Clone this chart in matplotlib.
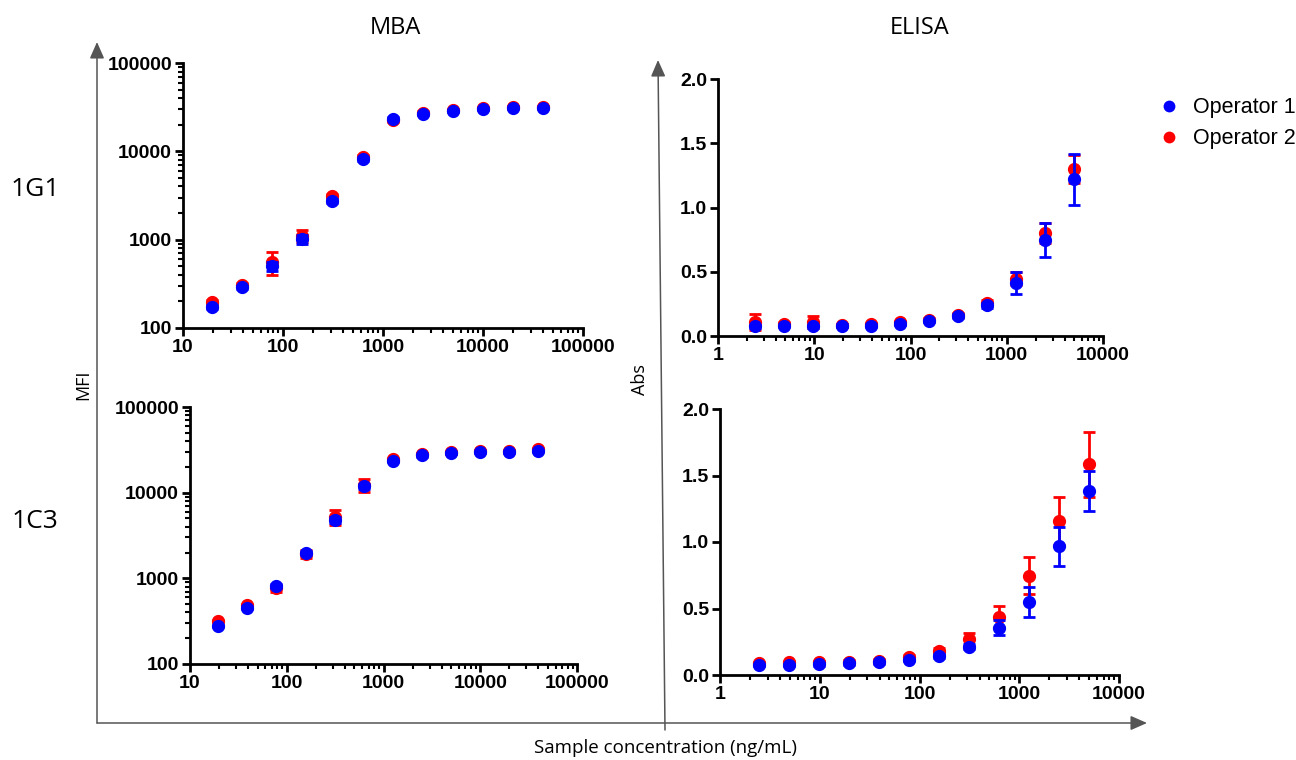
import numpy as np
import matplotlib
matplotlib.use("Agg")
import matplotlib.pyplot as plt
from matplotlib.lines import Line2D
from matplotlib.ticker import LogLocator, NullFormatter, FixedLocator

# MBA concentrations (2-fold dilution series, ng/mL)
mba_conc = [19.53, 39.06, 78.13, 156.25, 312.5, 625, 1250, 2500, 5000, 10000, 20000, 40000]
# ELISA concentrations
elisa_conc = [2.44, 4.88, 9.77, 19.53, 39.06, 78.13, 156.25, 312.5, 625, 1250, 2500, 5000]

# MBA 1G1 (MFI)
mba_1g1_op1 = [174, 289, 503, 1010, 2770, 8200, 23300, 26700, 28900, 30200, 30700, 31300]
mba_1g1_op1_sd = [8, 12, 60, 110, 150, 400, 900, 800, 700, 700, 800, 800]
mba_1g1_op2 = [195, 307, 563, 1110, 3120, 8700, 22600, 27500, 29500, 31000, 31600, 31600]
mba_1g1_op2_sd = [10, 15, 170, 170, 200, 500, 900, 900, 900, 900, 900, 900]

# MBA 1C3 (MFI)
mba_1c3_op1 = [277, 454, 813, 1990, 4790, 11900, 23400, 27200, 29000, 30000, 30000, 30800]
mba_1c3_op1_sd = [10, 20, 40, 100, 400, 800, 900, 800, 800, 800, 800, 800]
mba_1c3_op2 = [318, 488, 764, 1920, 5240, 12300, 24400, 28200, 29500, 30400, 30600, 32000]
mba_1c3_op2_sd = [12, 20, 66, 210, 1100, 2000, 900, 900, 900, 900, 900, 900]

# ELISA 1G1 (Abs)
elisa_1g1_op1 = [0.075, 0.081, 0.075, 0.081, 0.081, 0.096, 0.117, 0.156, 0.239, 0.414, 0.746, 1.22]
elisa_1g1_op1_sd = [0.01, 0.01, 0.01, 0.01, 0.01, 0.01, 0.01, 0.015, 0.02, 0.085, 0.13, 0.20]
elisa_1g1_op2 = [0.109, 0.096, 0.109, 0.083, 0.091, 0.109, 0.127, 0.166, 0.257, 0.447, 0.80, 1.30]
elisa_1g1_op2_sd = [0.06, 0.01, 0.05, 0.01, 0.01, 0.01, 0.01, 0.015, 0.02, 0.05, 0.08, 0.11]

# ELISA 1C3 (Abs)
elisa_1c3_op1 = [0.075, 0.075, 0.080, 0.088, 0.095, 0.113, 0.145, 0.213, 0.356, 0.549, 0.967, 1.383]
elisa_1c3_op1_sd = [0.01, 0.01, 0.01, 0.01, 0.01, 0.01, 0.015, 0.02, 0.055, 0.11, 0.147, 0.15]
elisa_1c3_op2 = [0.088, 0.095, 0.095, 0.10, 0.108, 0.138, 0.18, 0.268, 0.439, 0.747, 1.158, 1.584]
elisa_1c3_op2_sd = [0.01, 0.01, 0.01, 0.01, 0.01, 0.015, 0.02, 0.05, 0.08, 0.137, 0.183, 0.243]

operators = ["Operator 1", "Operator 2"]
colors = ["#0000FF", "#FF0000"]

W, H = 1296, 760
fig = plt.figure(figsize=(W / 100, H / 100), dpi=100)


def px_axes(x0, y0, x1, y1):
    # Axes from pixel box (top-left origin)
    return fig.add_axes([x0 / W, 1 - y1 / H, (x1 - x0) / W, (y1 - y0) / H])


def style_axes(ax):
    ax.spines[["right", "top"]].set_visible(False)
    for s in ["left", "bottom"]:
        ax.spines[s].set_linewidth(2)
    ax.tick_params(which="major", direction="out", length=6, width=2, labelsize=14, pad=2)
    ax.tick_params(which="minor", direction="out", length=3.5, width=1.5)
    for lab in ax.get_xticklabels() + ax.get_yticklabels():
        lab.set_fontweight("bold")
        lab.set_fontfamily("Liberation Sans")


def draw_series(ax, x, y1, e1, y2, e2):
    # Operator 2 below, operator 1 on top
    for y, e, c, z in [(y2, e2, colors[1], 3), (y1, e1, colors[0], 4)]:
        ax.errorbar(x, y, yerr=e, fmt="o", color=c, ecolor=c, ms=8.5, mec=c,
                    elinewidth=2, capsize=4, capthick=2, clip_on=False, zorder=z)


def mba_axes(ax):
    ax.set_xscale("log")
    ax.set_yscale("log")
    ax.set_xlim(10, 100000)
    ax.set_ylim(100, 100000)
    ax.xaxis.set_major_locator(FixedLocator([10, 100, 1000, 10000, 100000]))
    ax.yaxis.set_major_locator(FixedLocator([100, 1000, 10000, 100000]))
    ax.xaxis.set_minor_locator(LogLocator(base=10, subs=np.arange(2, 10)))
    ax.yaxis.set_minor_locator(LogLocator(base=10, subs=np.arange(2, 10)))
    ax.xaxis.set_minor_formatter(NullFormatter())
    ax.yaxis.set_minor_formatter(NullFormatter())
    ax.set_xticklabels(["10", "100", "1000", "10000", "100000"])
    ax.set_yticklabels(["100", "1000", "10000", "100000"])
    style_axes(ax)


def elisa_axes(ax):
    ax.set_xscale("log")
    ax.set_xlim(1, 10000)
    ax.set_ylim(0, 2.0)
    ax.xaxis.set_major_locator(FixedLocator([1, 10, 100, 1000, 10000]))
    ax.xaxis.set_minor_locator(LogLocator(base=10, subs=np.arange(2, 10)))
    ax.xaxis.set_minor_formatter(NullFormatter())
    ax.set_xticklabels(["1", "10", "100", "1000", "10000"])
    ax.set_yticks([0, 0.5, 1.0, 1.5, 2.0])
    ax.set_yticklabels(["0.0", "0.5", "1.0", "1.5", "2.0"])
    style_axes(ax)


# MBA 1G1
ax = px_axes(183, 63, 583, 328)
draw_series(ax, mba_conc, mba_1g1_op1, mba_1g1_op1_sd, mba_1g1_op2, mba_1g1_op2_sd)
mba_axes(ax)

# MBA 1C3
ax = px_axes(190, 407, 577, 664)
draw_series(ax, mba_conc, mba_1c3_op1, mba_1c3_op1_sd, mba_1c3_op2, mba_1c3_op2_sd)
mba_axes(ax)

# ELISA 1G1
ax = px_axes(718, 79, 1103, 336)
draw_series(ax, elisa_conc, elisa_1g1_op1, elisa_1g1_op1_sd, elisa_1g1_op2, elisa_1g1_op2_sd)
elisa_axes(ax)

# ELISA 1C3
ax = px_axes(720, 409, 1119, 675)
draw_series(ax, elisa_conc, elisa_1c3_op1, elisa_1c3_op1_sd, elisa_1c3_op2, elisa_1c3_op2_sd)
elisa_axes(ax)


# Frame arrows around the panels
def fig_arrow(p0, p1):
    xy0 = (p0[0] / W, 1 - p0[1] / H)
    xy1 = (p1[0] / W, 1 - p1[1] / H)
    fig.add_artist(matplotlib.patches.FancyArrowPatch(
        xy0, xy1, transform=fig.transFigure,
        arrowstyle="-|>,head_length=0.5,head_width=0.22",
        mutation_scale=20, color="#555555", lw=1.1, shrinkA=0, shrinkB=0))


fig_arrow((97, 723), (97, 42))
fig_arrow((97, 723), (1147, 723))
fig_arrow((665, 730), (658, 60))

# Annotations
txt_font = "Open Sans"
fig.text(395 / W, 1 - 28 / H, "MBA", fontsize=17, family=txt_font, ha="center", va="center")
fig.text(920 / W, 1 - 28 / H, "ELISA", fontsize=17, family=txt_font, ha="center", va="center")
fig.text(35 / W, 1 - 190 / H, "1G1", fontsize=19, family=txt_font, ha="center", va="center")
fig.text(35 / W, 1 - 522 / H, "1C3", fontsize=19, family=txt_font, ha="center", va="center")
fig.text(83 / W, 1 - 385 / H, "MFI", fontsize=13, family=txt_font, ha="center", va="center",
         rotation=90)
fig.text(640 / W, 1 - 380 / H, "Abs", fontsize=13, family=txt_font, ha="center", va="center",
         rotation=90)
fig.text(665 / W, 1 - 748 / H, "Sample concentration (ng/mL)", fontsize=13.5, family=txt_font,
         ha="center", va="center")

# Legend
handles = [Line2D([], [], ls="", marker="o", color=c, ms=8.5, mew=0) for c in colors]
fig.legend(handles, operators, loc="upper left", bbox_to_anchor=(1137 / W, 1 - 78 / H),
           frameon=False, prop={"family": "Liberation Sans", "size": 15.5},
           handletextpad=0.5, labelspacing=0.45, handlelength=1.2)

fig.savefig("out.png", dpi=100)
